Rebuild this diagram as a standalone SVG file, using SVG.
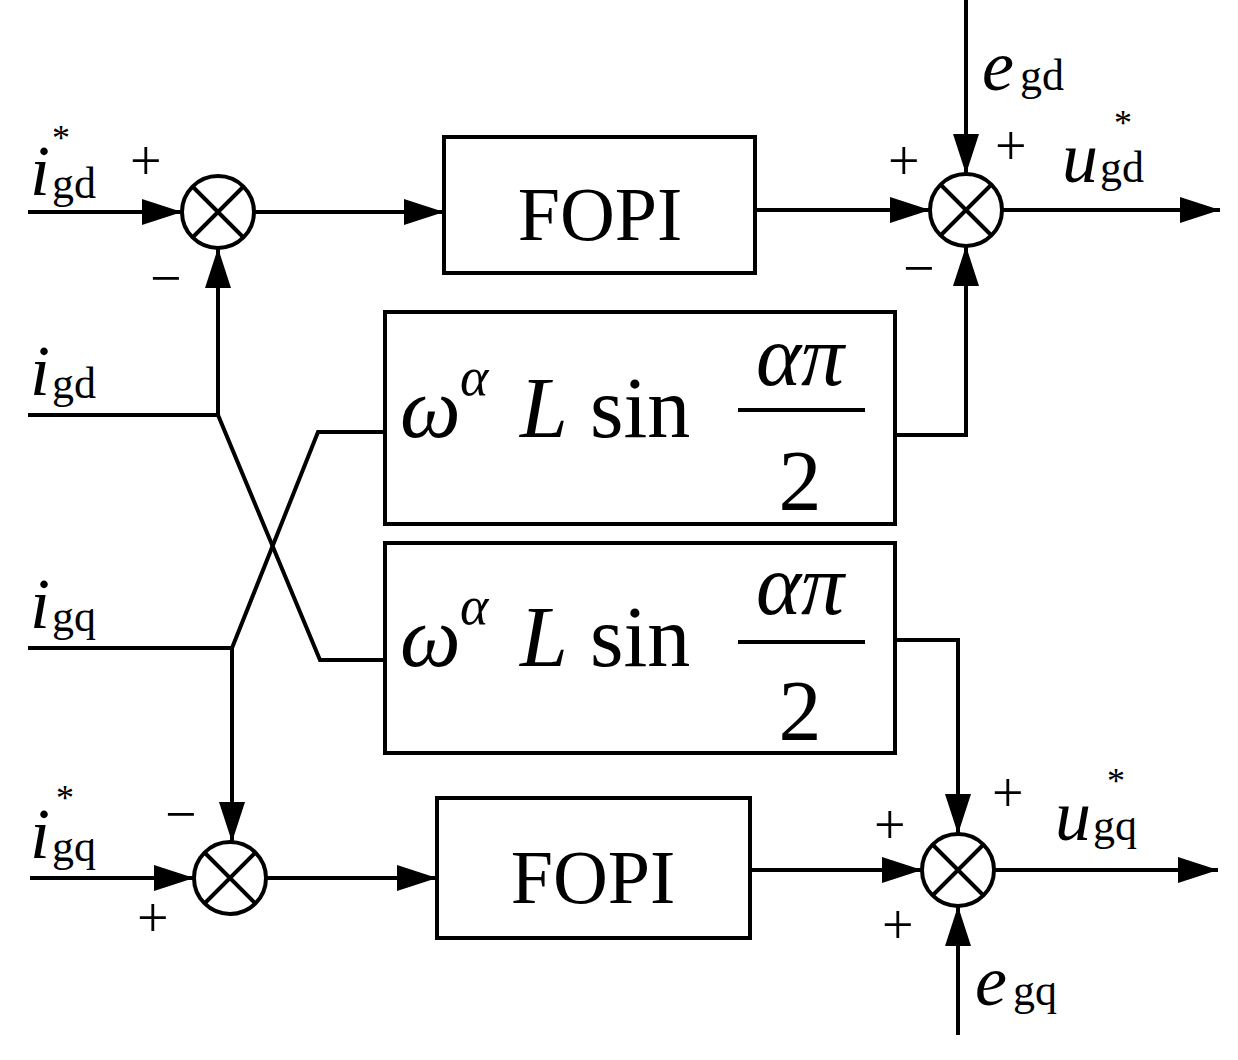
<svg xmlns="http://www.w3.org/2000/svg" width="1238" height="1060" viewBox="0 0 1238 1060">
<defs>
<marker id="arw" markerWidth="40" markerHeight="26" refX="40" refY="13" orient="auto" markerUnits="userSpaceOnUse" viewBox="0 0 40 26"><path d="M0,0 L40,13 L0,26 z" fill="#000"/></marker>
<style>
.l{fill:none;stroke:#000;stroke-width:4}
.a{fill:none;stroke:#000;stroke-width:4;marker-end:url(#arw)}
.b{fill:#fff;stroke:#000;stroke-width:4}
.t{font-family:"Liberation Serif",serif;fill:#000}
.i{font-family:"Liberation Serif",serif;font-style:italic;fill:#000}
</style>
</defs>
<rect width="1238" height="1060" fill="#fff"/>
<g id="connectors">
<path class="a" d="M28,212 H182"/>
<path class="a" d="M254,212 H444"/>
<path class="a" d="M755,210 H930"/>
<path class="a" d="M1002,210 H1220"/>
<path class="a" d="M966,0 V174"/>
<path class="l" d="M28,415 H218 L320,660 H385"/>
<path class="a" d="M218,415 V248"/>
<path class="l" d="M28,648 H232 L318,432 H385"/>
<path class="a" d="M232,648 V842"/>
<path class="a" d="M895,435 H966 V246"/>
<path class="a" d="M895,640 H958 V834"/>
<path class="a" d="M30,878 H194"/>
<path class="a" d="M266,878 H437"/>
<path class="a" d="M750,870 H922"/>
<path class="a" d="M994,870 H1218"/>
<path class="a" d="M958,1035 V906"/>
</g>
<g id="sum1"><circle class="b" cx="218" cy="212" r="36"/><path class="l" d="M193,187 L243,237 M243,187 L193,237"/></g>
<g id="sum2"><circle class="b" cx="966" cy="210" r="36"/><path class="l" d="M941,185 L991,235 M991,185 L941,235"/></g>
<g id="sum3"><circle class="b" cx="230" cy="878" r="36"/><path class="l" d="M205,853 L255,903 M255,853 L205,903"/></g>
<g id="sum4"><circle class="b" cx="958" cy="870" r="36"/><path class="l" d="M933,845 L983,895 M983,845 L933,895"/></g>
<g id="fopi1"><rect class="b" x="444" y="137" width="311" height="136"/><text class="t" x="600" y="240" font-size="76" text-anchor="middle">FOPI</text></g>
<g id="fopi2"><rect class="b" x="437" y="798" width="313" height="140"/><text class="t" x="593" y="903" font-size="76" text-anchor="middle">FOPI</text></g>
<g id="gain1"><rect class="b" x="385" y="312" width="510" height="212"/>
<text class="i" x="400" y="437" font-size="86">ω</text><text class="i" x="460" y="395" font-size="54">α</text>
<text class="i" x="520" y="437" font-size="86">L</text><text class="t" x="590" y="437" font-size="86">sin</text>
<text class="i" x="800" y="385" font-size="86" text-anchor="middle">απ</text>
<path class="l" d="M738,410 H865"/>
<text class="t" x="800" y="510" font-size="86" text-anchor="middle">2</text></g>
<g id="gain2"><rect class="b" x="385" y="543" width="510" height="210"/>
<text class="i" x="400" y="666" font-size="86">ω</text><text class="i" x="460" y="624" font-size="54">α</text>
<text class="i" x="520" y="666" font-size="86">L</text><text class="t" x="590" y="666" font-size="86">sin</text>
<text class="i" x="800" y="614" font-size="86" text-anchor="middle">απ</text>
<path class="l" d="M738,642 H865"/>
<text class="t" x="800" y="740" font-size="86" text-anchor="middle">2</text></g>
<g id="labels">
<text class="i" x="30" y="195" font-size="72">i</text><text class="t" x="52" y="198" font-size="44">gd</text><text class="t" x="52" y="150" font-size="36">*</text>
<text class="t" x="130" y="180" font-size="56">+</text><text class="t" x="150" y="297" font-size="56">−</text>
<text class="i" x="30" y="395" font-size="72">i</text><text class="t" x="52" y="398" font-size="44">gd</text>
<text class="i" x="30" y="628" font-size="72">i</text><text class="t" x="52" y="631" font-size="44">gq</text>
<text class="i" x="30" y="858" font-size="72">i</text><text class="t" x="52" y="861" font-size="44">gq</text><text class="t" x="56" y="810" font-size="36">*</text>
<text class="t" x="165" y="833" font-size="56">−</text><text class="t" x="137" y="937" font-size="56">+</text>
<text class="i" x="982" y="90" font-size="72">e</text><text class="t" x="1020" y="90" font-size="44">gd</text>
<text class="t" x="888" y="180" font-size="56">+</text><text class="t" x="995" y="165" font-size="56">+</text><text class="t" x="903" y="287" font-size="56">−</text>
<text class="i" x="1062" y="182" font-size="72">u</text><text class="t" x="1100" y="182" font-size="44">gd</text><text class="t" x="1114" y="135" font-size="36">*</text>
<text class="t" x="992" y="812" font-size="56">+</text><text class="t" x="874" y="844" font-size="56">+</text><text class="t" x="882" y="944" font-size="56">+</text>
<text class="i" x="1055" y="840" font-size="72">u</text><text class="t" x="1093" y="840" font-size="44">gq</text><text class="t" x="1107" y="793" font-size="36">*</text>
<text class="i" x="975" y="1005" font-size="72">e</text><text class="t" x="1013" y="1005" font-size="44">gq</text>
</g>
</svg>
